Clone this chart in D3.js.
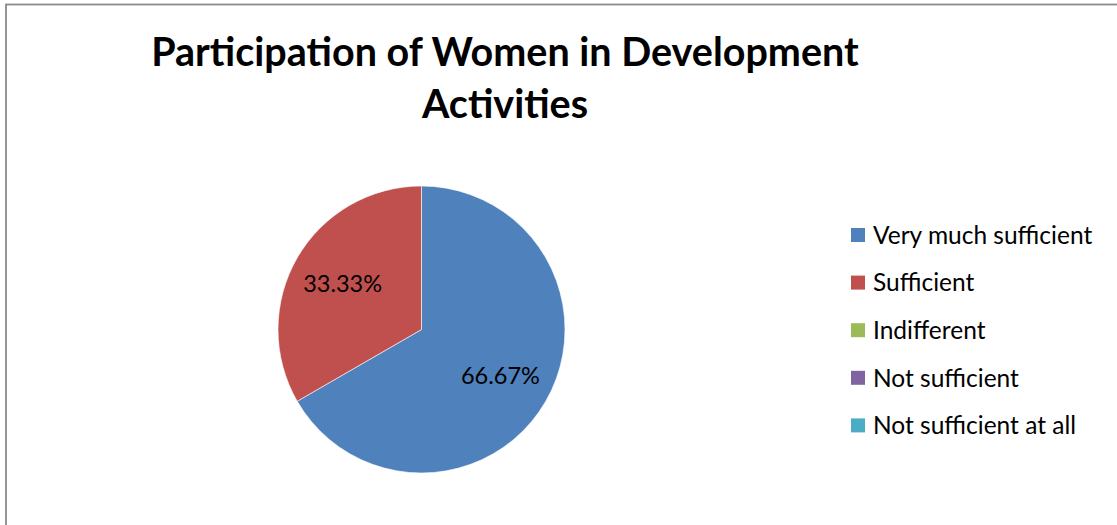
<!DOCTYPE html>
<html>
<head>
<meta charset="utf-8">
<script src="https://cdn.jsdelivr.net/npm/d3@7"></script>
<style>
  html, body { margin: 0; padding: 0; background: #fff; }
  svg { display: block; }
  text { font-family: Lato, "Open Sans", sans-serif; fill: #000; }
</style>
</head>
<body>
<svg id="chart" width="1117" height="525"></svg>
<script>
// Survey responses: share of respondents per answer (percent)
const categories = ["Very much sufficient", "Sufficient", "Indifferent", "Not sufficient", "Not sufficient at all"];
const values = [66.67, 33.33, 0, 0, 0];
const colors = ["#4F81BD", "#C0504D", "#9BBB59", "#8064A2", "#4BACC6"];
const titleLines = ["Participation of Women in Development", "Activities"];

const W = 1117, H = 525;
const svg = d3.select("#chart");

// chart area frame (continues past the right and bottom edges)
svg.append("rect")
  .attr("x", 6).attr("y", 4.5)
  .attr("width", W + 20).attr("height", H + 20)
  .attr("fill", "none")
  .attr("stroke", "#8a8a8a")
  .attr("stroke-width", 1.8);

// title
const title = svg.append("text")
  .attr("text-anchor", "middle")
  .style("font-weight", "bold")
  .style("font-size", "39.5px");
title.selectAll("tspan")
  .data(titleLines)
  .join("tspan")
  .attr("x", 505)
  .attr("y", (d, i) => 66 + i * 52)
  .text(d => d);

// pie
const cx = 421.5, cy = 329.5, r = 143.5;
const color = d3.scaleOrdinal().domain(categories).range(colors);
const pie = d3.pie().sort(null).value(d => d.value);
const data = categories.map((c, i) => ({ name: c, value: values[i] }));
const arcs = pie(data);
const arc = d3.arc().innerRadius(0).outerRadius(r);
const labelArc = d3.arc().innerRadius(r * 0.635).outerRadius(r * 0.635);

const g = svg.append("g").attr("transform", `translate(${cx},${cy})`);
g.selectAll("path")
  .data(arcs.filter(d => d.data.value > 0))
  .join("path")
  .attr("d", arc)
  .attr("fill", d => color(d.data.name))
  .attr("stroke", "#fff")
  .attr("stroke-width", 0.6);

g.selectAll("text.lbl")
  .data(arcs.filter(d => d.data.value > 0))
  .join("text")
  .attr("class", "lbl")
  .attr("transform", d => `translate(${labelArc.centroid(d)})`)
  .attr("text-anchor", "middle")
  .attr("dy", "0.36em")
  .style("font-size", "23.5px")
  .text(d => d3.format(".2f")(d.data.value) + "%");

// legend
const legend = svg.append("g").attr("transform", "translate(851,235)");
const item = legend.selectAll("g")
  .data(categories)
  .join("g")
  .attr("transform", (d, i) => `translate(0,${i * 47.6})`);
item.append("rect")
  .attr("x", 0).attr("y", -7)
  .attr("width", 14).attr("height", 14)
  .attr("fill", d => color(d));
item.append("text")
  .attr("x", 22)
  .attr("dy", "0.36em")
  .style("font-size", "24.5px")
  .text(d => d);
</script>
</body>
</html>
